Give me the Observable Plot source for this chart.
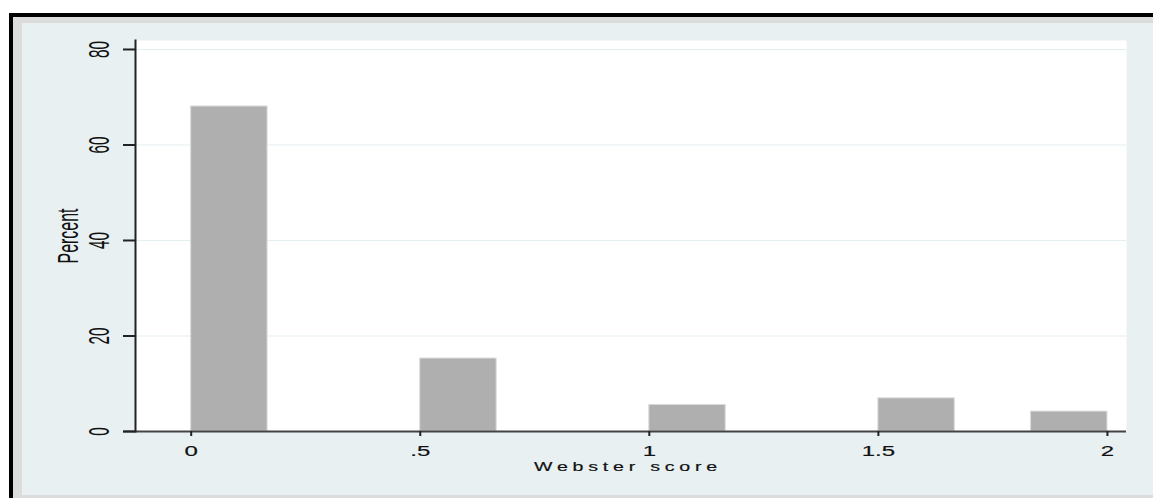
<!DOCTYPE html>
<html><head><meta charset="utf-8">
<script src="https://cdn.jsdelivr.net/npm/d3@7"></script>
<script src="https://cdn.jsdelivr.net/npm/@observablehq/plot@0.6"></script>
<style>
html,body{margin:0;padding:0;background:#fff;width:1153px;height:498px;overflow:hidden;}
#outer{position:absolute;left:9px;top:13px;width:1144px;height:485px;background:#000;}
#band{position:absolute;left:13px;top:17px;width:1140px;height:481px;background:#dcdcdc;}
#inner{position:absolute;left:22px;top:23px;width:1131px;height:472px;background:#e8f0f2;}
#chart{position:absolute;left:0;top:0;}
</style></head><body>
<div id="outer"></div><div id="band"></div><div id="inner"></div>
<div id="chart"></div>
<script>
// Histogram bins (lower / upper edges) and percent heights
const binLo = [0, 0.5, 1, 1.5, 1.8333];
const binHi = [0.1667, 0.6667, 1.1667, 1.6667, 2];
const percent = [68.06, 15.28, 5.56, 6.94, 4.17];
const xTicks = [0, 0.5, 1, 1.5, 2];
const xTickLabels = ["0", ".5", "1", "1.5", "2"];
const yTicks = [0, 20, 40, 60, 80];
const yTickLabels = ["0", "20", "40", "60", "80"];
const xTitle = "Webster score";
const yTitle = "Percent";

const bars = percent.map((p, i) => ({lo: binLo[i], hi: binHi[i], p}));

const plot = Plot.plot({
  width: 1153, height: 498,
  marginLeft: 135, marginRight: 27, marginTop: 40, marginBottom: 67,
  x: {domain: [-0.1216, 2.0416], axis: null},
  y: {domain: [0, 81.88], axis: null},
  style: {background: "transparent", fontFamily: "'Liberation Sans', Arial, sans-serif", color: "#111", overflow: "visible"},
  marks: [
    Plot.frame({fill: "#ffffff", stroke: null}),
    Plot.gridY(yTicks.slice(1), {stroke: "#e4edf0", strokeOpacity: 1, strokeWidth: 1}),
    Plot.rectY(bars, {x1: "lo", x2: "hi", y: "p", fill: "#afafaf", stroke: "#dadada", strokeWidth: 1}),
    Plot.ruleY([0], {stroke: "#444", strokeWidth: 2, insetLeft: -12}),
    Plot.frame({anchor: "left", stroke: "#222", strokeWidth: 2}),
    Plot.axisY(yTicks, {tickSize: 12, tickFormat: () => "", stroke: "#222", strokeWidth: 2, label: null}),
    Plot.axisX(xTicks, {tickSize: 5, tickFormat: () => "", stroke: "#222", strokeWidth: 2, label: null}),
    Plot.text(yTicks, {y: d => d, text: (d, i) => yTickLabels[i], frameAnchor: "left", dx: -27, rotate: -90,
      textAnchor: "middle", lineAnchor: "bottom", fontSize: 29, fill: "#111", ariaDescription: "ytl"}),
    Plot.text([yTitle], {frameAnchor: "left", dx: -58, rotate: -90, textAnchor: "middle",
      lineAnchor: "bottom", fontSize: 30, fill: "#111", ariaDescription: "yt"}),
    Plot.text(xTicks, {x: d => d, text: (d, i) => xTickLabels[i], frameAnchor: "bottom", dy: 24.5,
      lineAnchor: "bottom", fontSize: 15, fill: "#111", stroke: "#111", strokeWidth: 0.2, ariaDescription: "xtl"}),
    Plot.text([xTitle], {frameAnchor: "bottom", dy: 39, dx: -3, lineAnchor: "bottom", fontSize: 13.5,
      fill: "#111", stroke: "#111", strokeWidth: 0.2, ariaDescription: "xt"})
  ]
});

document.getElementById("chart").appendChild(plot);

function stretch(selector, sx, ls) {
  d3.select(plot).selectAll(selector).each(function() {
    const el = d3.select(this);
    const x = +el.attr("x") || 0, y = +el.attr("y") || 0;
    const t = el.attr("transform") || "";
    el.attr("x", null).attr("y", null);
    el.attr("transform", `${t} translate(${x},${y}) scale(${sx},1)`);
    if (ls) el.attr("letter-spacing", ls);
  });
}
stretch('g[aria-description="ytl"] text', 0.53);
stretch('g[aria-description="yt"] text', 0.53);
stretch('g[aria-description="xtl"] text', 1.6);
stretch('g[aria-description="xt"] text', 1.45, 3.3);
</script>
</body></html>
